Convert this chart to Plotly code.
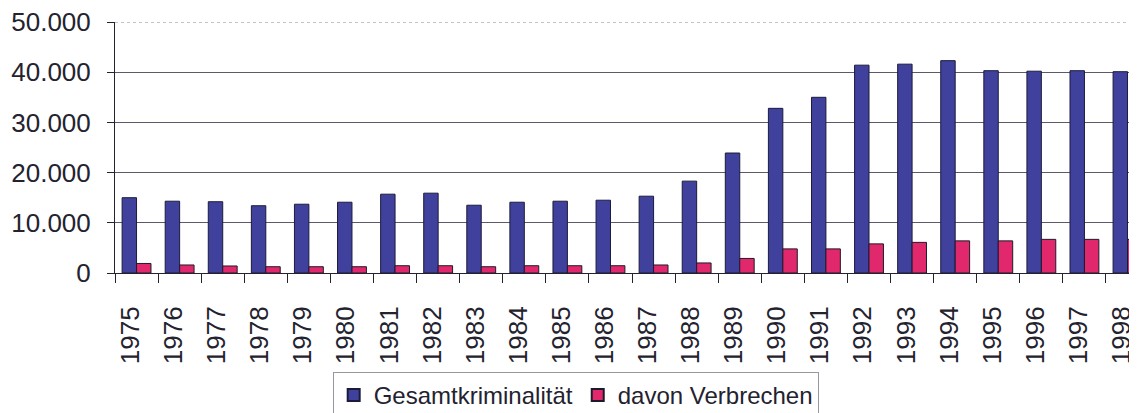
import plotly.graph_objects as go

YEARS = [str(y) for y in range(1975, 1999)]
GESAMT = [15000, 14300, 14200, 13400, 13700, 14100, 15700, 15900, 13500, 14100,
          14300, 14500, 15300, 18300, 23900, 32800, 35000, 41400, 41600, 42300,
          40300, 40200, 40300, 40100]
VERBRECHEN = [1900, 1600, 1400, 1250, 1250, 1250, 1450, 1450, 1250, 1450,
              1450, 1450, 1600, 2000, 2900, 4800, 4800, 5800, 6100, 6400,
              6400, 6700, 6700, 6700]

FONT = "Arial, 'Liberation Sans', sans-serif"
INK = "#23222e"
GRID = "#5f5868"

fig = go.Figure()
fig.add_trace(go.Bar(
    x=YEARS, y=GESAMT, name="Gesamtkriminalität",
    marker={"color": "#40419c", "line": {"color": "#1b1b3c", "width": 1}},
))
fig.add_trace(go.Bar(
    x=YEARS, y=VERBRECHEN, name="davon Verbrechen",
    marker={"color": "#e2286c", "line": {"color": "#1b1b2c", "width": 1}},
))

# top frame line is dotted in the original
fig.add_shape(type="line", xref="paper", yref="y", x0=0, x1=1, y0=50000, y1=50000,
              line={"color": "white", "width": 2}, layer="below")
fig.add_shape(type="line", xref="paper", yref="y", x0=0, x1=1, y0=50000, y1=50000,
              line={"color": "#8a8490", "width": 1, "dash": "dot"}, layer="below")

# page body has an 8px margin, so the figure is sized to end at the window edge
fig.update_layout(
    width=1129, height=405,
    margin={"l": 107, "r": 0, "t": 14, "b": 140, "autoexpand": False},
    paper_bgcolor="white", plot_bgcolor="white",
    font={"family": FONT, "color": INK},
    separators=",.",
    barmode="group", bargap=0.33, bargroupgap=0,
    showlegend=True,
    legend={
        "orientation": "h", "x": 0.213, "xanchor": "left",
        "y": -0.394, "yanchor": "top",
        "font": {"size": 24, "family": FONT, "color": INK},
        "bordercolor": "#9a96a0", "borderwidth": 1,
        "itemsizing": "constant", "tracegroupgap": 0,
    },
)
fig.update_xaxes(
    type="category", range=[-0.5, 23.22],
    showline=True, linecolor=INK, linewidth=1,
    ticks="outside", tickson="boundaries", ticklen=9, tickcolor=INK,
    tickangle=-90, ticklabelshift=-6, ticklabelstandoff=22,
    ticklabeloverflow="allow",
    tickfont={"size": 26, "family": FONT, "color": INK},
    showgrid=False, automargin=False,
)
fig.update_yaxes(
    range=[0, 50000], tickvals=[0, 10000, 20000, 30000, 40000, 50000],
    tickformat=",d",
    showline=True, linecolor=INK, linewidth=1,
    ticks="outside", ticklen=7, tickcolor=INK,
    ticklabelstandoff=11, ticklabeloverflow="allow",
    tickfont={"size": 26, "family": FONT, "color": INK},
    showgrid=True, gridcolor=GRID, gridwidth=1, zeroline=False,
    automargin=False,
)

fig.write_html("out.html")
